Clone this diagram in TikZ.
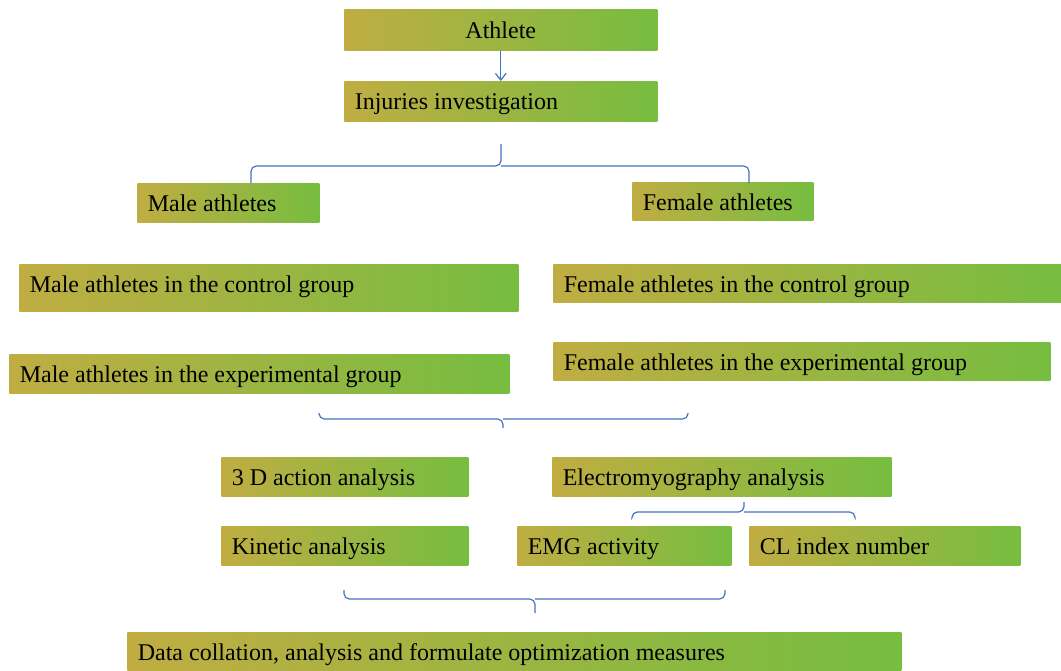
\documentclass[tikz,border=0pt]{standalone}
\usepackage{fontspec}
\setmainfont{Liberation Serif}
\usetikzlibrary{arrows.meta}
\definecolor{gl}{RGB}{192,173,66}
\definecolor{gr}{RGB}{118,189,64}
\definecolor{bl}{RGB}{68,114,196}
\tikzset{
  gbox/.style={rectangle, draw=none, left color=gl, right color=gr, inner sep=0pt, anchor=north west},
  gtext/.style={inner sep=0pt, font=\fontsize{18}{20}\selectfont},
  brace/.style={draw=bl, line width=0.9pt, rounded corners=4pt},
  arr/.style={draw=bl, line width=0.9pt, -{Straight Barb[length=5pt,width=8pt]}}
}
\newcommand\gbox[6]{% name, x1,y1,x2,y2, text (left aligned)
  \node[gbox, minimum width={(#4-#2)*0.75pt}, minimum height={(#5-#3)*0.75pt}] (#1) at (#2,#3) {};
  \node[gtext, anchor=base west] (#1-t) at ([xshift=7.9pt, yshift=-21.6pt]#1.north west) {#6};}
\begin{document}
\begin{tikzpicture}[x=0.75pt,y=-0.75pt]
\useasboundingbox (0,0) rectangle (1061,671);
\node[gbox, minimum width={313*0.75pt}, minimum height={41*0.75pt}] (ath) at (344,9) {};
\node[gtext, anchor=base] (ath-t) at ([yshift=-22.3pt]ath.north) {Athlete};
\gbox{inj}{344}{81}{657}{121}{Injuries investigation}
\gbox{male}{137}{183}{319}{222}{Male athletes}
\gbox{fem}{632}{182}{813}{220}{Female athletes}
\gbox{mc}{19}{264}{518}{311}{Male athletes in the control group}
\gbox{fc}{553}{264}{1061}{302}{Female athletes in the control group}
\gbox{me}{9}{354}{509}{393}{Male athletes in the experimental group}
\gbox{fe}{553}{342}{1050}{380}{Female athletes in the experimental group}
\gbox{td}{221}{457}{468}{496}{3 D action analysis}
\gbox{emga}{552}{457}{891}{496}{Electromyography analysis}
\gbox{kin}{221}{526}{468}{565}{Kinetic analysis}
\gbox{emg}{517}{526}{731}{565}{EMG activity}
\gbox{cl}{749}{526}{1020}{565}{CL index number}
\gbox{data}{127}{632}{901}{671}{Data collation, analysis and formulate optimization measures}

% arrow
\draw[arr] (ath.south) -- (inj.north);

% brace 1 (opening downward)
\coordinate (b1t) at (501,144);
\coordinate (b1l) at (251,183);
\coordinate (b1r) at (749,183);
\draw[brace] (b1l) -- (251,166) -- (501,166) -- (b1t);
\draw[brace] (b1r) -- (749,166) -- (501,166);

% brace 2 (opening upward)
\coordinate (b2t) at (503,428);
\draw[brace] (319,413) -- (319,419) -- (503,419) -- (b2t);
\draw[brace] (688,413) -- (688,419) -- (503,419);

% brace 3 (opening downward)
\coordinate (b3t) at (744,502);
\draw[brace] (632,517) -- (632,512) -- (744,512) -- (b3t);
\draw[brace] (855,517) -- (855,512) -- (744,512);

% brace 4 (opening upward)
\coordinate (b4t) at (535,613);
\draw[brace] (344,590) -- (344,599) -- (535,599) -- (b4t);
\draw[brace] (725,590) -- (725,599) -- (535,599);
\end{tikzpicture}
\end{document}
